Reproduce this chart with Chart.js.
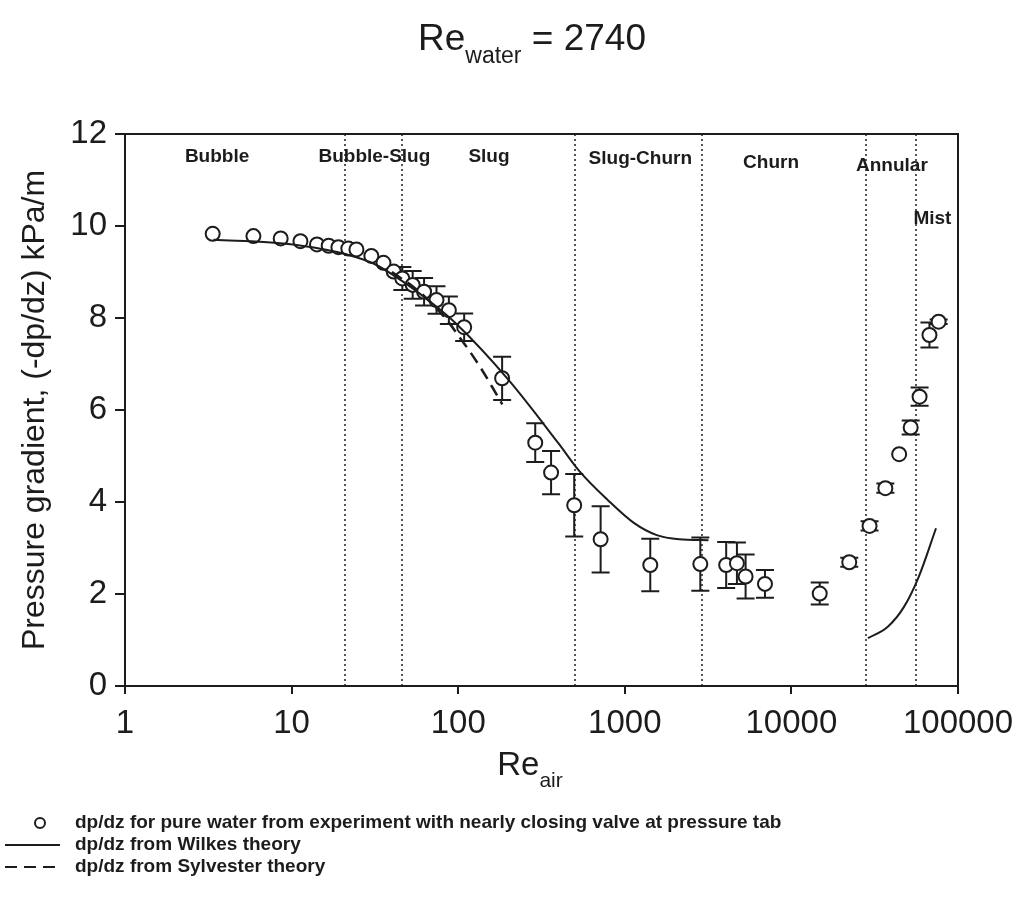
<!DOCTYPE html>
<html>
<head>
<meta charset="utf-8">
<title>Re water = 2740</title>
<script src="https://cdn.jsdelivr.net/npm/chart.js@4.4.1/dist/chart.umd.min.js"></script>
<style>
  html, body { margin: 0; padding: 0; background: #fff; }
  canvas { display: block; }
</style>
</head>
<body>
<canvas id="chart" width="1033" height="917"></canvas>
<script>
// Achsen: Re_air logarithmisch, Druckgradient in kPa/m
const xTicks = [1, 10, 100, 1000, 10000, 100000];
const yTicks = [0, 2, 4, 6, 8, 10, 12];

// Messpunkte: reines Wasser, Ventil am Druckabgriff fast geschlossen
const expRe = [3.36, 5.9, 8.6, 11.3, 14.2, 16.7, 19.1, 21.9, 24.5, 30.1, 35.6, 41, 46.2,
  53.3, 62.4, 74.1, 87.9, 108.6, 183.5, 290, 361, 497, 716, 1422, 2840, 4060, 4710,
  5310, 6940, 14790, 22250, 29450, 36640, 44340, 52000, 58800, 67400, 76500];
const expDp = [9.83, 9.78, 9.73, 9.67, 9.6, 9.57, 9.54, 9.51, 9.49, 9.35, 9.2, 9.01, 8.86,
  8.72, 8.57, 8.39, 8.17, 7.8, 6.69, 5.29, 4.64, 3.93, 3.19, 2.63, 2.65, 2.63, 2.67,
  2.38, 2.22, 2.01, 2.69, 3.48, 4.3, 5.04, 5.62, 6.29, 7.63, 7.92];
const expErr = [0, 0, 0, 0, 0, 0, 0, 0, 0, 0, 0, 0, 0.25,
  0.3, 0.3, 0.3, 0.3, 0.3, 0.47, 0.42, 0.47, 0.68, 0.72, 0.57, 0.58, 0.5, 0.45,
  0.48, 0.3, 0.24, 0.1, 0.1, 0.1, 0, 0.15, 0.2, 0.27, 0.05];

// Wilkes-Theorie (zwei Äste)
const wilkesRe = [3.4, 8.9, 15.8, 21, 30.8, 45, 66, 97, 201, 399, 537, 792, 1138, 1556, 2120, 3180];
const wilkesDp = [9.7, 9.62, 9.49, 9.39, 9.19, 8.83, 8.39, 7.88, 6.65, 5.28, 4.66, 4.04, 3.54, 3.28, 3.19, 3.17];
const wilkesAnnRe = [28800, 37900, 47400, 58200, 73800];
const wilkesAnnDp = [1.04, 1.29, 1.72, 2.38, 3.43];

// Sylvester-Theorie
const sylvRe = [40, 55, 70, 88, 100, 116, 139, 160, 184];
const sylvDp = [9.0, 8.65, 8.3, 7.9, 7.62, 7.3, 6.87, 6.5, 6.12];

// Strömungsregime: Grenzen und Namen
const regimeBounds = [21, 46, 500, 2900, 28000, 56000];
const regimeNames = ['Bubble', 'Bubble-Slug', 'Slug', 'Slug-Churn', 'Churn', 'Annular', 'Mist'];

const FONT = '"Liberation Sans", Arial, sans-serif';
const INK = '#1c1c1c';

const toXY = (xs, ys) => xs.map((x, i) => ({ x, y: ys[i] }));

// Beschriftung der Regime (Lage in Datenkoordinaten)
const regimeLabelX = [3.57, 31.4, 153, 1239, 7550, 40100, 70200];
const regimeLabelY = [11.5, 11.5, 11.5, 11.46, 11.37, 11.3, 10.15];

// Fehlerbalken + gepunktete Regimegrenzen unter den Datensätzen
const underlay = {
  id: 'underlay',
  beforeDatasetsDraw(chart) {
    const { ctx, chartArea, scales: { x, y } } = chart;
    ctx.save();
    ctx.strokeStyle = '#555';
    ctx.lineWidth = 2;
    ctx.setLineDash([2, 3]);
    regimeBounds.forEach(b => {
      const px = Math.round(x.getPixelForValue(b));
      ctx.beginPath();
      ctx.moveTo(px, chartArea.top);
      ctx.lineTo(px, chartArea.bottom);
      ctx.stroke();
    });
    ctx.setLineDash([]);
    ctx.strokeStyle = INK;
    expRe.forEach((re, i) => {
      const e = expErr[i];
      if (!e) return;
      const px = x.getPixelForValue(re);
      const top = y.getPixelForValue(expDp[i] + e);
      const bot = y.getPixelForValue(expDp[i] - e);
      ctx.beginPath();
      ctx.moveTo(px, top); ctx.lineTo(px, bot);
      ctx.moveTo(px - 9, top); ctx.lineTo(px + 9, top);
      ctx.moveTo(px - 9, bot); ctx.lineTo(px + 9, bot);
      ctx.stroke();
    });
    ctx.restore();
  }
};

// Rahmen, Regimenamen, Titel mit Index, x-Titel und Legende
const overlay = {
  id: 'overlay',
  afterDraw(chart) {
    const { ctx, chartArea, scales: { x, y } } = chart;
    ctx.save();
    ctx.strokeStyle = INK;
    ctx.lineWidth = 2;
    ctx.strokeRect(chartArea.left, chartArea.top, chartArea.right - chartArea.left, chartArea.bottom - chartArea.top);

    ctx.fillStyle = INK;
    ctx.textAlign = 'center';
    ctx.textBaseline = 'middle';
    ctx.font = 'bold 19px ' + FONT;
    regimeNames.forEach((n, i) => {
      ctx.fillText(n, x.getPixelForValue(regimeLabelX[i]), y.getPixelForValue(regimeLabelY[i]));
    });

    // Text mit tiefgestelltem Index
    const subText = (cx, base, main, sub, rest, big, small) => {
      ctx.textAlign = 'left';
      ctx.textBaseline = 'alphabetic';
      ctx.font = big + 'px ' + FONT;
      const w1 = ctx.measureText(main).width;
      const w3 = ctx.measureText(rest).width;
      ctx.font = small + 'px ' + FONT;
      const w2 = ctx.measureText(sub).width;
      let left = cx - (w1 + w2 + w3) / 2;
      ctx.font = big + 'px ' + FONT;
      ctx.fillText(main, left, base);
      ctx.font = small + 'px ' + FONT;
      ctx.fillText(sub, left + w1, base + small * 0.55);
      ctx.font = big + 'px ' + FONT;
      ctx.fillText(rest, left + w1 + w2, base);
    };
    subText(532, 50, 'Re', 'water', ' = 2740', 37, 23);
    subText(530, 775, 'Re', 'air', '', 33, 21);

    // Legende
    const ds = chart.data.datasets;
    const rows = [0, 1, 3];
    ctx.font = 'bold 19px ' + FONT;
    ctx.textBaseline = 'middle';
    ctx.textAlign = 'left';
    rows.forEach((d, r) => {
      const cy = 823 + r * 22;
      ctx.lineWidth = 2;
      ctx.strokeStyle = INK;
      ctx.beginPath();
      if (r === 0) {
        ctx.arc(40, cy, 5, 0, Math.PI * 2);
      } else {
        ctx.setLineDash(ds[d].borderDash || []);
        ctx.moveTo(5, cy);
        ctx.lineTo(60, cy);
      }
      ctx.stroke();
      ctx.setLineDash([]);
      ctx.fillText(ds[d].label, 75, cy);
    });
    ctx.restore();
  }
};

const axisLine = { color: INK, width: 2 };

new Chart(document.getElementById('chart'), {
  type: 'scatter',
  data: {
    datasets: [
      {
        label: 'dp/dz for pure water from experiment with nearly closing valve at pressure tab',
        data: toXY(expRe, expDp),
        pointStyle: 'circle',
        pointRadius: 7,
        pointBorderWidth: 2,
        borderColor: INK,
        backgroundColor: '#fff',
        showLine: false,
        order: 2
      },
      {
        label: 'dp/dz from Wilkes theory',
        data: toXY(wilkesRe, wilkesDp),
        showLine: true,
        borderColor: INK,
        borderWidth: 2,
        pointRadius: 0,
        cubicInterpolationMode: 'monotone',
        order: 1
      },
      {
        label: 'dp/dz from Wilkes theory (annular)',
        data: toXY(wilkesAnnRe, wilkesAnnDp),
        showLine: true,
        borderColor: INK,
        borderWidth: 2,
        pointRadius: 0,
        cubicInterpolationMode: 'monotone',
        order: 1
      },
      {
        label: 'dp/dz from Sylvester theory',
        data: toXY(sylvRe, sylvDp),
        showLine: true,
        borderColor: INK,
        borderWidth: 2.5,
        borderDash: [12, 7],
        pointRadius: 0,
        cubicInterpolationMode: 'monotone',
        order: 1
      }
    ]
  },
  options: {
    responsive: false,
    animation: false,
    devicePixelRatio: 1,
    layout: { padding: { left: 0, right: 75, top: 134, bottom: 171 } },
    plugins: { legend: { display: false }, tooltip: { enabled: false } },
    scales: {
      x: {
        type: 'logarithmic',
        min: 1,
        max: 100000,
        afterBuildTicks: axis => { axis.ticks = xTicks.map(v => ({ value: v })); },
        afterFit: axis => { axis.height = 60; },
        ticks: {
          color: INK,
          font: { size: 33, family: FONT },
          padding: 10,
          maxRotation: 0,
          autoSkip: false,
          callback: v => String(v)
        },
        grid: { drawOnChartArea: false, tickLength: 8, color: INK, lineWidth: 2 },
        border: axisLine
      },
      y: {
        min: 0,
        max: 12,
        afterBuildTicks: axis => { axis.ticks = yTicks.map(v => ({ value: v })); },
        afterFit: axis => { axis.width = 125; },
        ticks: {
          color: INK,
          font: { size: 33, family: FONT },
          padding: 8
        },
        grid: { drawOnChartArea: false, tickLength: 10, color: INK, lineWidth: 2 },
        border: axisLine,
        title: {
          display: true,
          text: 'Pressure gradient, (-dp/dz) kPa/m',
          color: INK,
          font: { size: 32, family: FONT },
          padding: { top: 16, bottom: 0 }
        }
      }
    }
  },
  plugins: [underlay, overlay]
});
</script>
</body>
</html>
